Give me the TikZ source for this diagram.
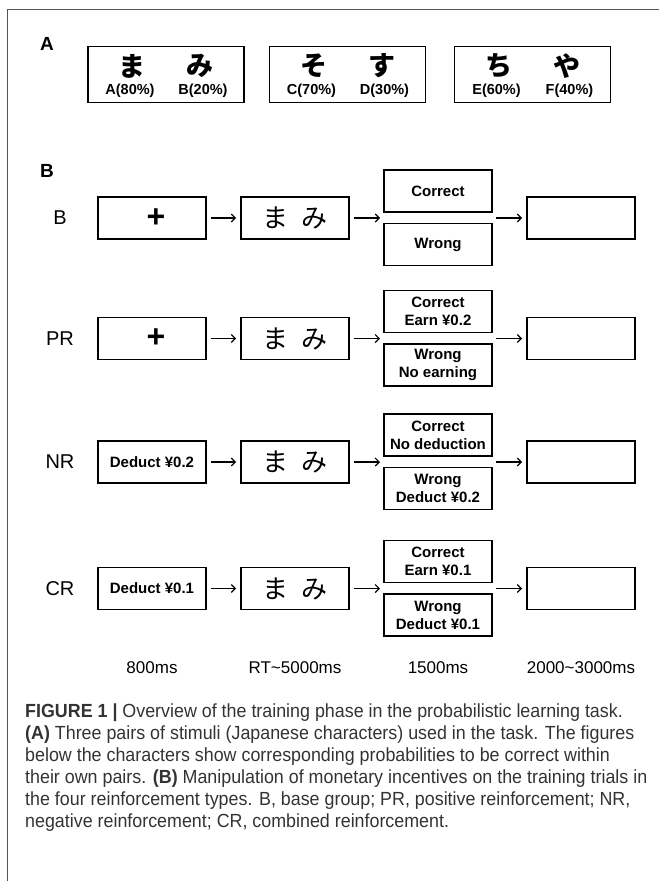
\documentclass[tikz,border=0pt]{standalone}
\usepackage{fontspec}
\setmainfont{Liberation Sans}
\newfontfamily\jpfont{Noto Sans CJK JP}
\newfontfamily\capfont[FakeStretch=0.94]{Liberation Sans}
\usetikzlibrary{arrows.meta}
\definecolor{framegray}{HTML}{555555}
\definecolor{capgray}{HTML}{333333}
\newcommand{\trialrow}[6]{%
  \node[rowlab] (#1lab) at (60,#3) {#2};
  \node[box] (#1a) at (152,#3) {#4};
  \node[box,kanaB] (#1b) at (295,#3) {ま\hspace{13pt}み};
  \node[box] (#1t) at (438,#3-27) {#5};
  \node[box] (#1w) at (438,#3+26.5) {#6};
  \node[box] (#1d) at (581,#3) {};
  \coordinate (#1in) at (384,#3);
  \coordinate (#1out) at (492,#3);
  \draw[arr] (#1a) -- (#1b);
  \draw[arr] (#1b) -- (#1in);
  \draw[arr] (#1out) -- (#1d);
}
\newcommand{\plussign}{{\fontsize{32}{34}\selectfont\bfseries\hspace{8pt}+}}
\begin{document}
\begin{tikzpicture}[x=1pt,y=-1pt,
  box/.style={draw=black, line width=1.7pt, minimum width=108pt, minimum height=42pt,
    inner sep=0pt, align=center, font=\fontsize{15}{18}\selectfont\bfseries},
  kanaB/.style={font=\jpfont\fontsize{26}{28}\selectfont},
  pbox/.style={draw=black, line width=1.8pt, minimum width=156pt, minimum height=56pt, inner sep=0pt},
  arr/.style={-{Straight Barb[length=4pt,width=8pt]}, line width=1.2pt, shorten <=4pt, shorten >=4pt},
  rowlab/.style={inner sep=0pt, font=\fontsize{20}{22}\selectfont},
  tlab/.style={font=\fontsize{17}{20}\selectfont},
  kanaA/.style={font=\jpfont\bfseries\fontsize{27}{29}\selectfont},
  labA/.style={font=\bfseries\fontsize{14.5}{16}\selectfont},
  plet/.style={font=\bfseries\fontsize{19}{21}\selectfont},
  capline/.style={anchor=base west, inner sep=0pt, text=capgray, font=\capfont\fontsize{19}{22}\selectfont}
]
\useasboundingbox (0,0) rectangle (659,881);
\draw[framegray, line width=1.5pt] (7.5,881) -- (7.5,9.5) -- (659,9.5);

% Panel A
\node[plet] (pA) at (47,44) {A};
\foreach \cx/\l/\r/\la/\lb [count=\i] in {166/ま/み/A(80\%)/B(20\%), 347.5/そ/す/C(70\%)/D(30\%), 532.5/ち/や/E(60\%)/F(40\%)}{
  \node[pbox] (pa\i) at (\cx,74.5) {};
  \node[kanaA] (ka\i) at (\cx-34,66) {\l};
  \node[kanaA] (kb\i) at (\cx+34,66) {\r};
  \node[labA] (la\i) at (\cx-36,91) {\la};
  \node[labA] (lb\i) at (\cx+37,91) {\lb};
}

% Panel B
\node[plet] (pB) at (47,171) {B};
\trialrow{rb}{B}{218}{\plussign}{Correct}{Wrong}
\trialrow{rp}{PR}{338.5}{\plussign}{Correct\\Earn ¥0.2}{Wrong\\No earning}
\trialrow{rn}{NR}{462}{Deduct ¥0.2}{Correct\\No deduction}{Wrong\\Deduct ¥0.2}
\trialrow{rc}{CR}{588.5}{Deduct ¥0.1}{Correct\\Earn ¥0.1}{Wrong\\Deduct ¥0.1}

\node[tlab] (t1) at (152,668) {800ms};
\node[tlab] (t2) at (295,668) {RT\textasciitilde 5000ms};
\node[tlab] (t3) at (438,668) {1500ms};
\node[tlab] (t4) at (581,668) {2000\textasciitilde 3000ms};

% Caption
\node[capline] (c1) at (25,717) {\textbf{FIGURE 1 |} Overview of the training phase in the probabilistic learning task.};
\node[capline] (c2) at (25,739) {\textbf{(A)} Three pairs of stimuli (Japanese characters) used in the task. The figures};
\node[capline] (c3) at (25,761) {below the characters show corresponding probabilities to be correct within};
\node[capline] (c4) at (25,783) {their own pairs. \textbf{(B)} Manipulation of monetary incentives on the training trials in};
\node[capline] (c5) at (25,805) {the four reinforcement types. B, base group; PR, positive reinforcement; NR,};
\node[capline] (c6) at (25,827) {negative reinforcement; CR, combined reinforcement.};
\end{tikzpicture}
\end{document}
